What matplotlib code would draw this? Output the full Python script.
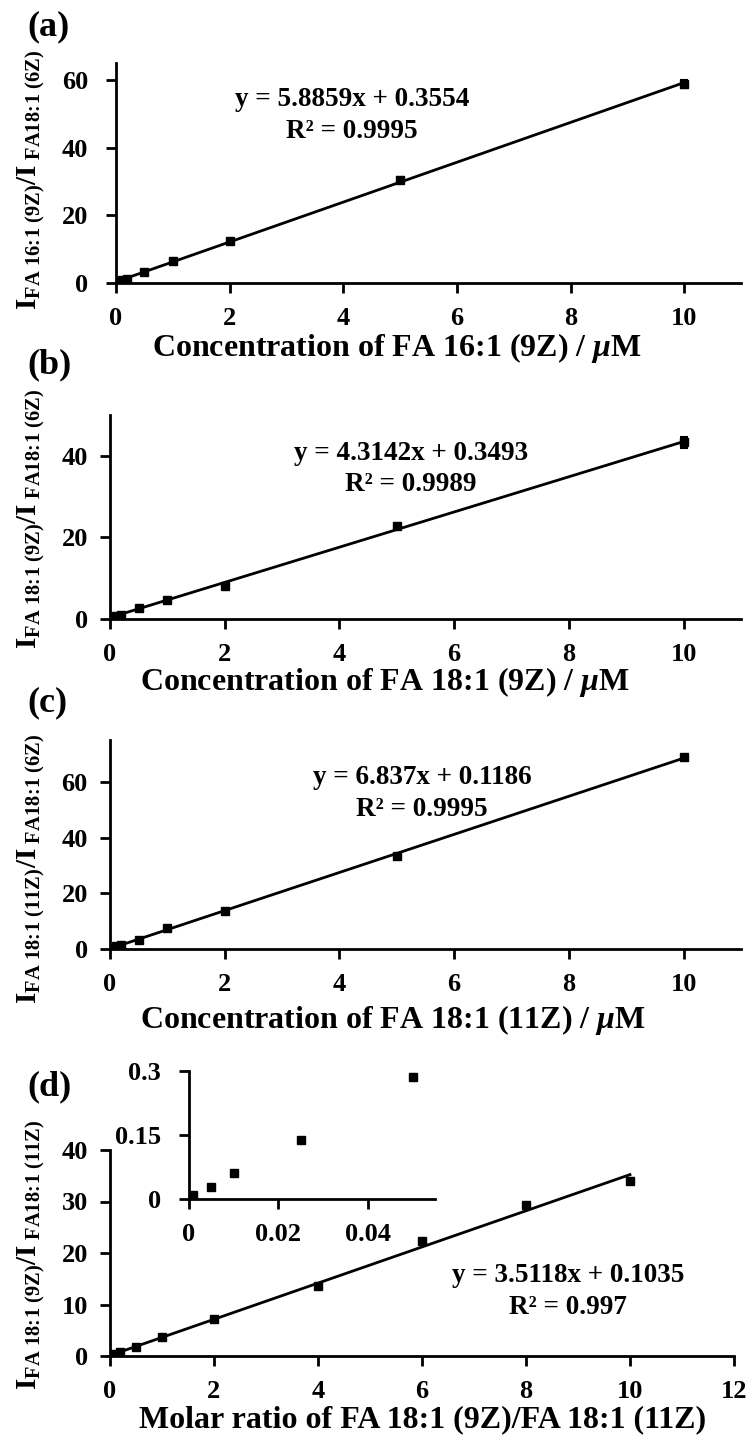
import numpy as np
import matplotlib
matplotlib.use("Agg")
import matplotlib.pyplot as plt

plt.rcParams['font.family'] = 'Liberation Serif'
plt.rcParams['font.weight'] = 'bold'
plt.rcParams['mathtext.fontset'] = 'custom'
plt.rcParams['mathtext.rm'] = 'Liberation Serif:bold'
plt.rcParams['mathtext.bf'] = 'Liberation Serif:bold'
plt.rcParams['mathtext.it'] = 'Liberation Serif:bold:italic'

W, H = 750, 1438

# (a) FA 16:1 (9Z)
conc_a = [0.05, 0.1, 0.2, 0.5, 1, 2, 5, 10]
ratio_a = [0.6, 0.9, 1.3, 3.3, 6.6, 12.3, 30.5, 58.8]
err_a = [0.05, 0.05, 0.1, 0.2, 0.3, 0.4, 0.8, 1.1]
fit_a = (5.8859, 0.3554, 0.9995)

# (b) FA 18:1 (9Z)
conc_b = [0.05, 0.1, 0.2, 0.5, 1, 2, 5, 10]
ratio_b = [0.5, 0.8, 1.1, 2.7, 4.7, 8.0, 22.8, 43.3]
err_b = [0.05, 0.05, 0.1, 0.2, 0.3, 0.4, 0.6, 1.3]
fit_b = (4.3142, 0.3493, 0.9989)

# (c) FA 18:1 (11Z)
conc_c = [0.05, 0.1, 0.2, 0.5, 1, 2, 5, 10]
ratio_c = [0.5, 0.9, 1.5, 3.3, 7.4, 13.8, 33.5, 68.9]
err_c = [0.05, 0.05, 0.1, 0.2, 0.3, 0.4, 0.6, 0.6]
fit_c = (6.837, 0.1186, 0.9995)

# (d) molar ratio 9Z / 11Z
molar_d = [0.001, 0.005, 0.01, 0.025, 0.05, 0.1, 0.2, 0.5, 1, 2, 4, 6, 8, 10]
ratio_d = [0.009, 0.029, 0.061, 0.138, 0.286, 0.45, 0.7, 1.8, 3.7, 7.2, 13.5, 22.3, 29.3, 34.0]
err_d = [0.002, 0.002, 0.003, 0.004, 0.006, 0.03, 0.05, 0.1, 0.2, 0.3, 0.4, 0.5, 0.5, 0.6]
fit_d = (3.5118, 0.1035, 0.997)
inset_n = 5

fig = plt.figure(figsize=(W / 100, H / 100), dpi=100)


def box(l, t, r, b):
    return [l / W, 1 - b / H, (r - l) / W, (b - t) / H]


def ftext(x, y, s, **kw):
    fig.text(x / W, 1 - y / H, s, **kw)


def style(ax, ypad=9, fs=19):
    for s in ['top', 'right']:
        ax.spines[s].set_visible(False)
    for s in ['left', 'bottom']:
        ax.spines[s].set_linewidth(2)
    ax.tick_params(direction='out', length=7, width=2, labelsize=fs)
    ax.tick_params(axis='x', pad=10)
    ax.tick_params(axis='y', pad=ypad)


def calib(ax, x, y, e, fit, xlim, ylim, xticks, yticks, ypad=9):
    ax.errorbar(x, y, yerr=e, fmt='s', color='black', ms=5.5, elinewidth=1.5,
                capsize=3, capthick=1.5, zorder=3)
    xs = np.array([min(x), max(x)])
    ax.plot(xs, fit[0] * xs + fit[1], color='black', lw=2, zorder=2)
    ax.set_xlim(*xlim)
    ax.set_ylim(*ylim)
    ax.set_xticks(xticks)
    ax.set_yticks(yticks)
    style(ax, ypad)


def eq_text(cx, cy, fit):
    ftext(cx, cy, f"y = {fit[0]}x + {fit[1]}", ha='center', va='center', fontsize=19.5)
    ftext(cx, cy + 31, f"R² = {fit[2]}", ha='center', va='center', fontsize=19.5)


def ratio_label(num, den):
    # I_num / I_den with subscripts; \! cancels the spacing mathtext puts round ':'
    num = num.replace(' ', r'\ ').replace(':', r'\!:\!')
    den = den.replace(' ', r'\ ').replace(':', r'\!:\!')
    return rf"I$_{{\mathrm{{{num}}}}}$/I$_{{\mathrm{{\ {den}}}}}$"


ax_a = fig.add_axes(box(116, 63, 741, 283))
calib(ax_a, conc_a, ratio_a, err_a, fit_a, (0, 11), (0, 65), range(0, 11, 2), range(0, 61, 20), ypad=13)
ax_b = fig.add_axes(box(110, 415, 741, 619))
calib(ax_b, conc_b, ratio_b, err_b, fit_b, (0, 11), (0, 50), range(0, 11, 2), range(0, 41, 20))
ax_c = fig.add_axes(box(110, 740, 741, 949))
calib(ax_c, conc_c, ratio_c, err_c, fit_c, (0, 11), (0, 75), range(0, 11, 2), range(0, 61, 20))
ax_d = fig.add_axes(box(110, 1150, 734, 1356))
calib(ax_d, molar_d, ratio_d, err_d, fit_d, (0, 12), (0, 40), range(0, 13, 2), range(0, 41, 10))

# inset with the lowest ratios
ax_in = fig.add_axes(box(189, 1071, 435, 1199))
ax_in.errorbar(molar_d[:inset_n], ratio_d[:inset_n], yerr=err_d[:inset_n], fmt='s',
               color='black', ms=5.5, elinewidth=1.5, capsize=2, capthick=1.5)
ax_in.set_xlim(0, 0.055)
ax_in.set_ylim(0, 0.3)
ax_in.set_xticks([0, 0.02, 0.04])
ax_in.set_xticklabels(['0', '0.02', '0.04'])
ax_in.set_yticks([0, 0.15, 0.3])
ax_in.set_yticklabels(['0', '0.15', '0.3'])
style(ax_in, ypad=13)

xl = dict(ha='center', va='center', fontsize=23)
ftext(397, 348, r"Concentration of FA 16:1 (9Z) / $\mathit{\mu}$M", **xl)
ftext(385, 682, r"Concentration of FA 18:1 (9Z) / $\mathit{\mu}$M", **xl)
ftext(393, 1020, r"Concentration of FA 18:1 (11Z) / $\mathit{\mu}$M", **xl)
ftext(423, 1420, "Molar ratio of FA 18:1 (9Z)/FA 18:1 (11Z)", **xl)

yl = dict(ha='center', va='center', fontsize=21, rotation=90)
ftext(31, 180, ratio_label("FA 16:1 (9Z)", "FA18:1 (6Z)"), **yl)
ftext(31, 519, ratio_label("FA 18:1 (9Z)", "FA18:1 (6Z)"), **yl)
ftext(31, 869, ratio_label("FA 18:1 (11Z)", "FA18:1 (6Z)"), **yl)
ftext(31, 1255, ratio_label("FA 18:1 (9Z)", "FA18:1 (11Z)"), **yl)

pl = dict(ha='left', va='center', fontsize=26)
ftext(27, 27, "(a)", **pl)
ftext(27, 365, "(b)", **pl)
ftext(27, 703, "(c)", **pl)
ftext(27, 1087, "(d)", **pl)

eq_text(352, 100, fit_a)
eq_text(411, 453, fit_b)
eq_text(422, 778, fit_c)
eq_text(568, 1276, fit_d)

fig.savefig("out.png", dpi=100)
